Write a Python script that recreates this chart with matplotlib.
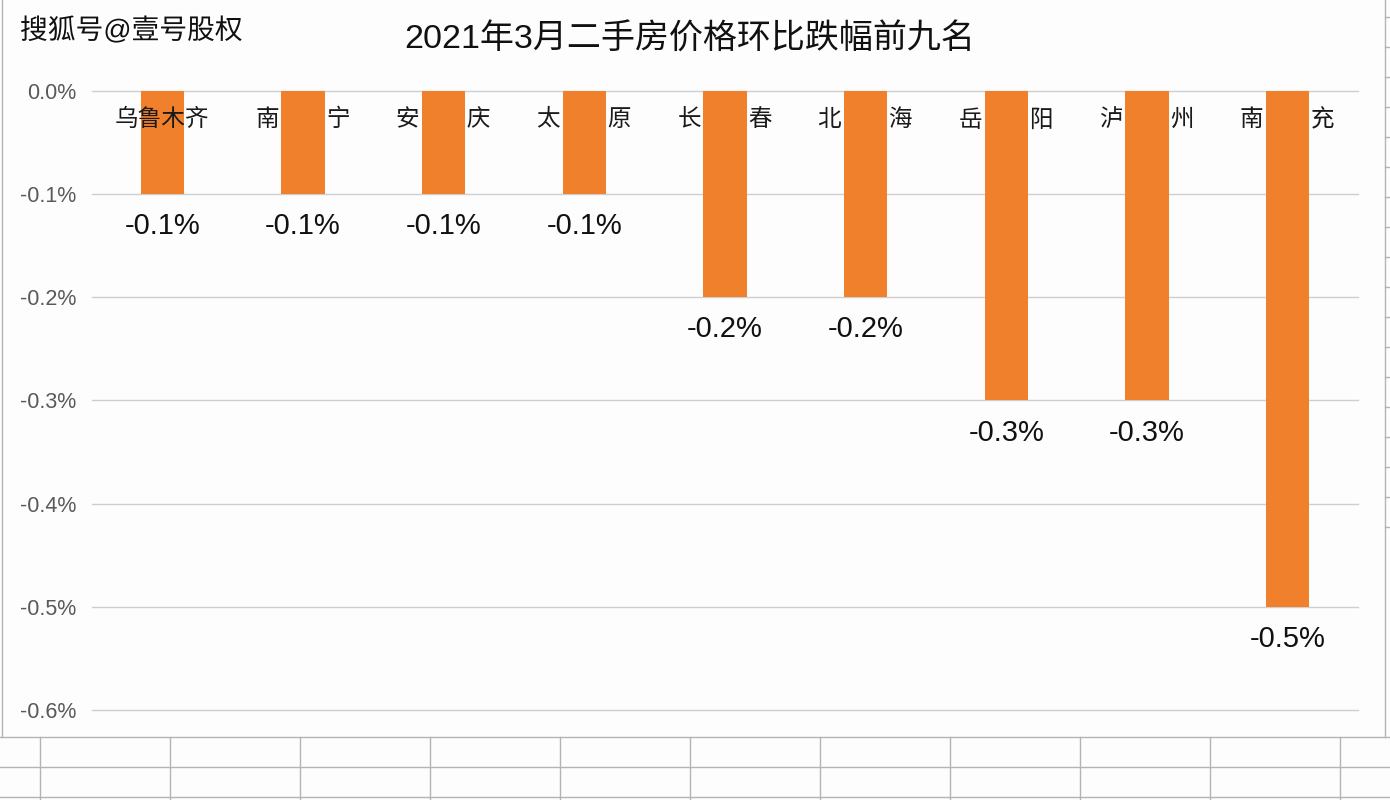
import matplotlib.pyplot as plt
import matplotlib.patheffects as pe
from matplotlib.lines import Line2D

plt.rcParams["font.family"] = ["Liberation Sans", "Noto Sans CJK SC", "DejaVu Sans"]

cities = ["乌鲁木齐", "南　　宁", "安　　庆", "太　　原", "长　　春",
          "北　　海", "岳　　阳", "泸　　州", "南　　充"]
changes = [-0.1, -0.1, -0.1, -0.1, -0.2, -0.2, -0.3, -0.3, -0.5]
yticks = [0.0, -0.1, -0.2, -0.3, -0.4, -0.5, -0.6]

W, H = 1390, 800
fig = plt.figure(figsize=(13.9, 8), dpi=100, facecolor="#fdfdfe")

# spreadsheet cells behind the chart (pixel coords -> figure fraction)
def hline(y, x0=0, x1=W, c="#b4b4b4", lw=1.0):
    fig.add_artist(Line2D([x0 / W, x1 / W], [1 - y / H, 1 - y / H], color=c, lw=lw))

def vline(x, y0=0, y1=H, c="#b4b4b4", lw=1.0):
    fig.add_artist(Line2D([x / W, x / W], [1 - y0 / H, 1 - y1 / H], color=c, lw=lw))

for y in (737, 767, 797):
    hline(y)
for x in range(40, 1390, 130):
    vline(x, 737, 800)
for y in range(527, 0, -30):
    hline(y, 1385, 1390)
vline(1.5, 0, 737)
vline(1384.5, 0, 737)

ax = fig.add_axes([92 / W, 1 - 710 / H, (1358 - 92) / W, (710 - 91) / H])
ax.set_facecolor("none")
x = range(len(cities))
bars = ax.bar(x, changes, width=0.31, color="#f0802c", zorder=2)
ax.set_xlim(-0.5, len(cities) - 0.5)
ax.set_ylim(-0.6, 0.0)
ax.set_yticks(yticks)
ax.set_yticklabels([f"{v:.1f}%" for v in yticks])
ax.tick_params(axis="y", length=0, pad=11, labelsize=15.5, labelcolor="#595959")
ax.set_xticks([])
for v in yticks:
    ax.axhline(v, color="#cfcfcf", lw=1, zorder=0, clip_on=False)
for s in ax.spines.values():
    s.set_visible(False)

for i, (name, v) in enumerate(zip(cities, changes)):
    ax.text(i, -0.028, name, ha="center", va="center", fontsize=17,
            color="#1a1a1a", zorder=3, family=["Noto Sans CJK SC"])
    ax.annotate(f"{v:.1f}%", (i, v), xytext=(0, -13), textcoords="offset points",
                ha="center", va="top", fontsize=21, color="#111111")

fig.text(690 / W, 1 - 40 / H, "2021年3月二手房价格环比跌幅前九名",
         ha="center", va="center", fontsize=24.5, color="#111111")
fig.text(20 / W, 1 - 31 / H, "搜狐号@壹号股权", ha="left", va="center",
         fontsize=20, color="#111111",
         path_effects=[pe.withStroke(linewidth=3, foreground="white")])

fig.savefig("out.png", dpi=100, facecolor=fig.get_facecolor())
